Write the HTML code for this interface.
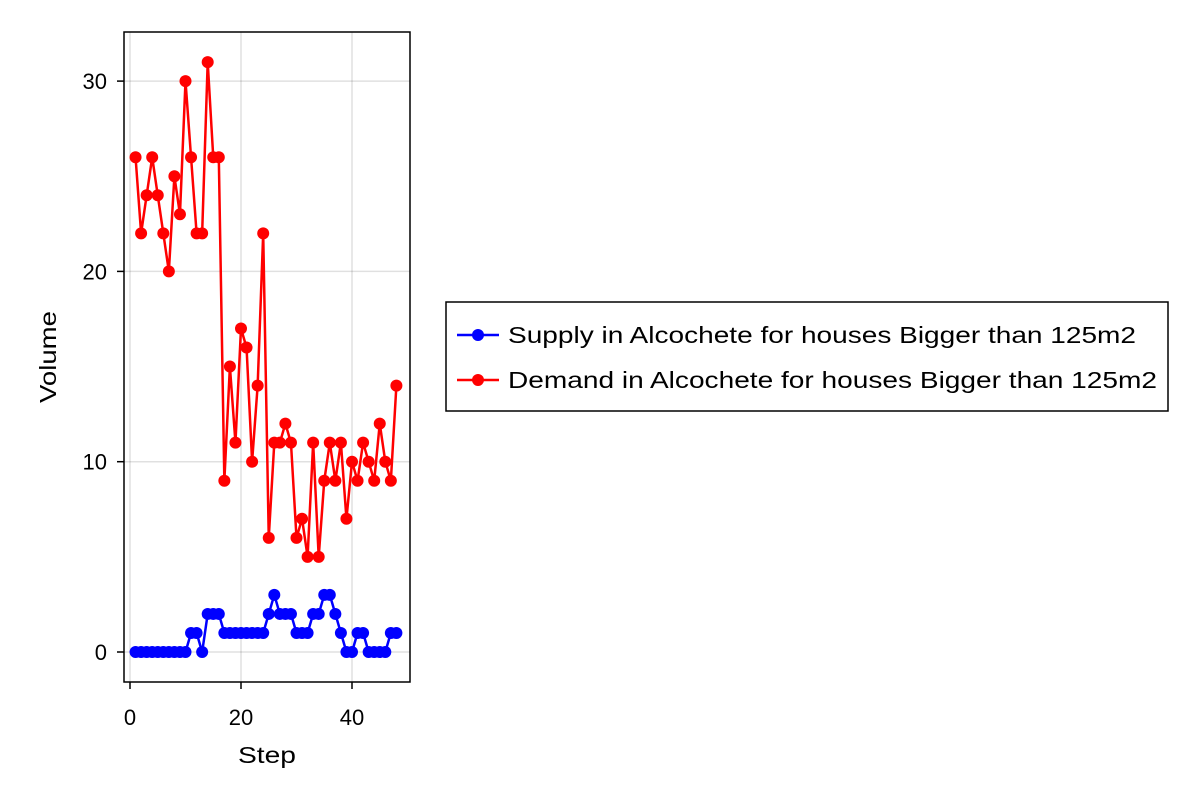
<!DOCTYPE html>
<html><head><meta charset="utf-8"><style>
body{margin:0;background:#fff;font-family:"Liberation Sans",sans-serif}
svg text{font-family:"Liberation Sans",sans-serif;fill:#000}
</style></head><body>
<svg width="1200" height="800" id="c">
<rect x="0" y="0" width="1200" height="800" fill="#fff"/>
<g id="grid"></g>
<g id="series"></g>
<rect x="124" y="32" width="286" height="650" fill="none" stroke="#000" stroke-width="1.5"/>
<g id="ticks"></g>
<text x="267" y="763" font-size="23" text-anchor="middle" textLength="58" lengthAdjust="spacingAndGlyphs">Step</text>
<text x="56" y="357" font-size="23" text-anchor="middle" textLength="92" lengthAdjust="spacingAndGlyphs" transform="rotate(-90 56 357)">Volume</text>
<g>
<rect x="446" y="302" width="722" height="109" fill="#fff" stroke="#000" stroke-width="1.5"/>
<g>
<line x1="457" y1="335" x2="499" y2="335" stroke="#0000ff" stroke-width="2.5"/><circle cx="478" cy="335" r="6" fill="#0000ff"/>
<text x="508" y="343" font-size="23" textLength="628" lengthAdjust="spacingAndGlyphs">Supply in Alcochete for houses Bigger than 125m2</text></g>
<g>
<line x1="457" y1="380" x2="499" y2="380" stroke="#ff0000" stroke-width="2.5"/><circle cx="478" cy="380" r="6" fill="#ff0000"/>
<text x="508" y="388" font-size="23" textLength="649" lengthAdjust="spacingAndGlyphs">Demand in Alcochete for houses Bigger than 125m2</text></g>
</g>
</svg>
<script>
const steps=[1,2,3,4,5,6,7,8,9,10,11,12,13,14,15,16,17,18,19,20,21,22,23,24,25,26,27,28,29,30,31,32,33,34,35,36,37,38,39,40,41,42,43,44,45,46,47,48];
const supply=[0,0,0,0,0,0,0,0,0,0,1,1,0,2,2,2,1,1,1,1,1,1,1,1,2,3,2,2,2,1,1,1,2,2,3,3,2,1,0,0,1,1,0,0,0,0,1,1];
const demand=[26,22,24,26,24,22,20,25,23,30,26,22,22,31,26,26,9,15,11,17,16,10,14,22,6,11,11,12,11,6,7,5,11,5,9,11,9,11,7,10,9,11,10,9,12,10,9,14];
const xTicks=[0,20,40];
const yTicks=[0,10,20,30];
const NS='http://www.w3.org/2000/svg';
const X=v=>130+v*5.55, Y=v=>652-v*19.03;
function mk(t,a,p){const e=document.createElementNS(NS,t);for(const k in a)e.setAttribute(k,a[k]);p.appendChild(e);return e;}
const grid=document.getElementById('grid'),ticks=document.getElementById('ticks'),ser=document.getElementById('series');
xTicks.forEach(v=>{
 const l=mk('line',{x1:X(v),x2:X(v),y1:32,y2:682,stroke:'#000','stroke-opacity':0.12,'stroke-width':1.5},grid);
 
 
 const t=mk('line',{x1:X(v),x2:X(v),y1:682,y2:689,stroke:'#000','stroke-width':1.5},ticks);
 
 
 const s=mk('text',{x:X(v),y:725,'font-size':22,'text-anchor':'middle'},ticks);s.textContent=v;
 
 
});
yTicks.forEach(v=>{
 const l=mk('line',{x1:124,x2:410,y1:Y(v),y2:Y(v),stroke:'#000','stroke-opacity':0.12,'stroke-width':1.5},grid);
 
 
 const t=mk('line',{x1:117,x2:124,y1:Y(v),y2:Y(v),stroke:'#000','stroke-width':1.5},ticks);
 
 
 const s=mk('text',{x:107,y:Y(v)+8,'font-size':22,'text-anchor':'end'},ticks);s.textContent=v;
 
 
});
function draw(vals,col,name){
 const g=mk('g',{},ser);
 
 
 const p=mk('polyline',{points:vals.map((v,i)=>X(steps[i])+','+Y(v)).join(' '),fill:'none',stroke:col,'stroke-width':2.5,'stroke-linejoin':'round'},g);
 
 
 vals.forEach((v,i)=>{const c=mk('circle',{cx:X(steps[i]),cy:Y(v),r:6,fill:col},g);
  
  });
}
draw(supply,'#0000ff','supply');
draw(demand,'#ff0000','demand');
</script>
</body></html>
